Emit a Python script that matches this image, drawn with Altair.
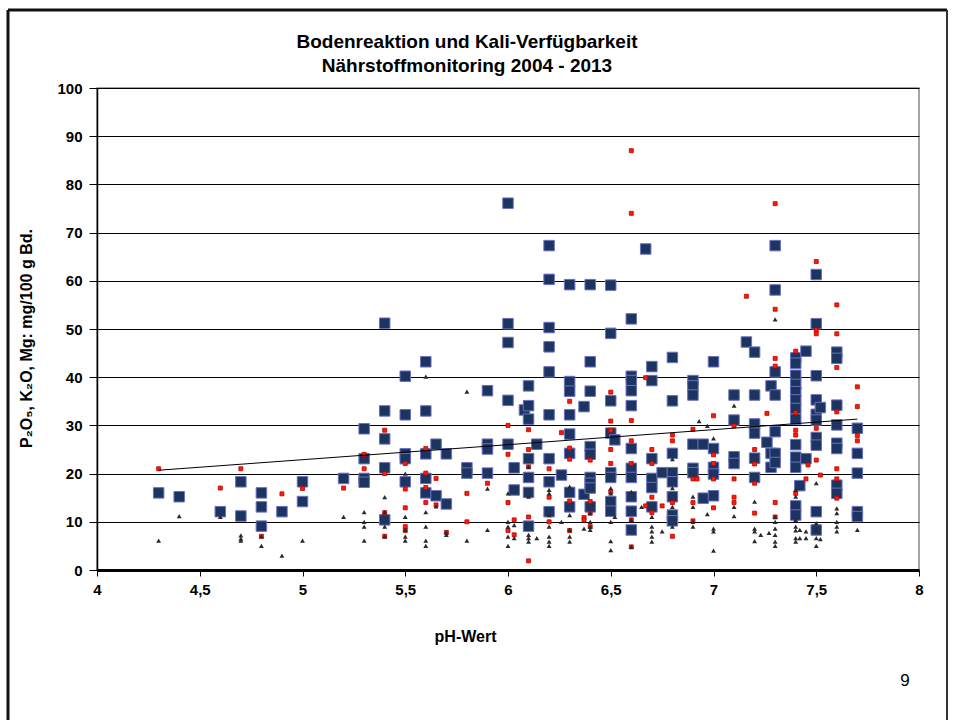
import altair as alt
import pandas as pd

# K2O (large navy squares), by pH
k2o = {
    4.3: [16], 4.4: [15.2], 4.6: [12.1], 4.7: [18.3, 11.2], 4.8: [16, 13.1, 9.1],
    4.9: [12.1], 5.0: [18.3, 14.2], 5.2: [19], 5.3: [29.3, 23.1, 19, 18.2],
    5.4: [51.2, 33, 27.2, 21.2, 10.4], 5.5: [40.2, 32.2, 24.1, 23.1, 18.3],
    5.6: [43.2, 33, 24.1, 19, 16], 5.65: [26.1, 15.4], 5.7: [24.1, 13.7],
    5.8: [21.2, 20.1], 5.9: [37.2, 26.1, 25.1, 20.1],
    6.0: [76.1, 51.1, 47.2, 35.2, 26.1], 6.03: [21.2, 16.6], 6.08: [33.2],
    6.1: [38.2, 34.1, 31.3, 23.1, 19.2, 16.1, 9.1], 6.14: [26.1],
    6.2: [67.3, 60.3, 50.3, 46.3, 41.1, 32.2, 23.1, 18.3, 12.1], 6.26: [19.7],
    6.3: [59.2, 39.1, 37.1, 32.2, 28.2, 24.2, 16.1, 13.1], 6.37: [33.9, 15.7],
    6.4: [59.2, 43.2, 37.1, 25.6, 24.0, 19.2, 18, 17, 13.1],
    6.5: [59.1, 49.1, 35.1, 28.4, 20.2, 19.2, 14.2, 12.2], 6.52: [27],
    6.6: [52.1, 40.2, 39.3, 37.2, 34.1, 25.2, 21.1, 19.2, 15.2, 12.2, 8.3],
    6.67: [66.6], 6.7: [42.2, 39.3, 23.1, 19, 17.1, 13.1], 6.75: [20.2],
    6.8: [44.1, 35.1, 24.2, 20.2, 18.3, 15.2, 11.4, 10.2],
    6.9: [39.3, 38.2, 36.3, 26.1, 21.1, 20.2], 6.95: [26.1, 14.9],
    7.0: [43.2, 25.2, 21.3, 19.9, 15.4], 7.1: [36.3, 31.1, 23.5, 22.1], 7.16: [47.3],
    7.2: [45.2, 36.3, 30.3, 28.4, 23.2, 19.2], 7.26: [26.5], 7.28: [38.2, 24.2, 21.3],
    7.3: [67.3, 58.1, 41.1, 36.3, 28.7, 24.2, 22.3],
    7.4: [44.0, 42.9, 40.4, 38.5, 37, 35.3, 33.5, 31.3, 26, 23.4, 21.3, 13.3, 11.4],
    7.42: [17.5], 7.45: [45.4, 23.1],
    7.5: [61.3, 51.1, 40.3, 35.3, 32.3, 31.1, 27.5, 25.9, 12.1, 8.3], 7.52: [33.7],
    7.6: [45.2, 43.9, 34.2, 30.1, 26.3, 25.2, 17.6, 15.9],
    7.7: [29.4, 24.2, 20.1, 12.1, 11.1],
}

# P2O5 (small red squares), by pH
p2o5 = {
    4.3: [21], 4.6: [17], 4.7: [21], 4.8: [7], 4.9: [15.8], 5.0: [16.9], 5.2: [17],
    5.3: [24, 21], 5.4: [29, 20, 11.9, 7], 5.5: [22.1, 16.8, 12.9, 9, 8.2],
    5.6: [25.2, 20.1, 17.1, 14], 5.65: [13.5, 19], 5.7: [7.8], 5.8: [15.9, 10],
    5.9: [18], 6.0: [30, 24, 14, 8.2], 6.03: [10.4, 7.3], 6.1: [29.1, 25, 21.4, 11, 1.9],
    6.2: [21, 15.1, 10], 6.26: [28.5], 6.3: [35, 25.3, 23, 14.3, 8.2], 6.37: [10.9, 10.4],
    6.4: [22.8, 14.2, 11.8, 9], 6.5: [36.9, 30.9, 29, 25, 22.1, 16.2],
    6.6: [87, 74, 31, 26.8, 22.1, 10.4, 4.8], 6.67: [39.9, 13.3],
    6.7: [25, 22.1, 15.1, 11.9], 6.75: [13.3], 6.8: [28, 26.8, 14, 7],
    6.9: [29.2, 18.9, 14, 10.2], 6.92: [18.9], 7.0: [32, 23.9, 22.1, 18.9, 12.9],
    7.1: [29.9, 18.9, 15.1, 14], 7.16: [56.8], 7.2: [25, 22, 18, 11.8], 7.26: [32.5],
    7.3: [76, 54.1, 43.9, 42.3, 14, 11], 7.4: [45.4, 32.6, 29, 28, 15.9], 7.45: [18.9],
    7.46: [21.8], 7.5: [64, 49.8, 49, 29.4, 22.8], 7.52: [19.7],
    7.6: [55, 49, 42, 32.8, 21, 18.9, 14.9], 7.7: [38, 33.9, 27.9, 26.8],
}

# Mg (small dark triangles), by pH
mg = {
    4.3: [6.1], 4.4: [11.2], 4.6: [11], 4.7: [7.2, 6.5, 6.1], 4.8: [7, 5], 4.9: [3],
    5.0: [6.1], 5.2: [11], 5.3: [12, 10, 9, 6.1], 5.4: [15.1, 12, 9, 7],
    5.5: [20, 11, 8.4, 6.9, 6.1], 5.6: [40.1, 12, 9, 6.1, 5], 5.65: [13.2],
    5.7: [7.3, 7.8], 5.8: [37, 6.1], 5.9: [16.9, 8.3], 6.0: [15.9, 10, 9, 6.9, 5],
    6.03: [9.3, 6.6], 6.1: [21.4, 15.2, 7.3, 6.6, 5.9], 6.14: [6.6],
    6.2: [16.6, 15.9, 11.4, 9, 6.9, 5.9, 5], 6.26: [10], 6.3: [17.3, 11.4, 8.3, 6.9, 5.9],
    6.37: [8.6], 6.4: [11.8, 10, 9, 8.3], 6.5: [17, 15.9, 10, 6, 4.1], 6.52: [11],
    6.6: [16.2, 10.4, 4.8], 6.65: [13.1], 6.7: [11, 9, 8, 6.9, 5.9], 6.75: [8],
    6.8: [23, 17, 13.1, 9], 6.9: [15.2, 13.1, 10, 9], 6.93: [30.9], 6.97: [29.9, 11.6],
    7.0: [27.3, 8.6, 8, 4], 7.1: [34.1, 13.1, 11.2], 7.2: [14.2, 8.6, 8, 6], 7.23: [7.3],
    7.27: [7.7], 7.3: [52, 11, 10, 8.6, 7.3, 5.9, 5], 7.4: [16.6, 15.2, 10.4, 9, 8.2, 6.6, 5.9],
    7.42: [8.3, 6.6], 7.45: [8, 6.6], 7.5: [18, 9.7, 8.3, 6.6, 5], 7.52: [6.4],
    7.6: [12.8, 11.8, 10, 9, 8], 7.7: [12.8, 8.3],
}

# linear trend line end points
trend_ph = [4.3, 7.7]
trend_val = [20.7, 31.3]

x_ticks = [4, 4.5, 5, 5.5, 6, 6.5, 7, 7.5, 8]
y_ticks = list(range(0, 101, 10))


def to_df(d, name):
    rows = [(ph, v, name) for ph, vals in d.items() for v in vals]
    return pd.DataFrame(rows, columns=["ph", "val", "serie"])


FONT = "Liberation Sans Narrow, Liberation Sans, Arial, sans-serif"
FONT_W = "Liberation Sans, Arial, sans-serif"

x_enc = alt.X(
    "ph:Q",
    scale=alt.Scale(domain=[4, 8], nice=False, zero=False),
    axis=alt.Axis(
        values=x_ticks, grid=False,
        labelExpr="replace(toString(datum.value), '.', ',')",
        domainColor="black", domainWidth=3, tickColor="black", tickSize=6, tickWidth=1,
        labelFont=FONT, labelFontSize=15, labelFontWeight="bold", labelColor="black",
        labelPadding=6, labelFlush=False,
        title="pH-Wert", titleFont=FONT, titleFontSize=16, titleFontWeight="bold",
        titleColor="black", titleX=368, titleY=58, titleAnchor="middle",
    ),
)
y_enc = alt.Y(
    "val:Q",
    scale=alt.Scale(domain=[0, 100], nice=False),
    axis=alt.Axis(
        values=y_ticks, grid=True, gridColor="black", gridWidth=1,
        domainColor="black", domainWidth=1.5, tickColor="black", tickSize=8, tickWidth=1,
        labelFont=FONT, labelFontSize=15, labelFontWeight="bold", labelColor="black",
        labelPadding=7,
        title="P₂O₅, K₂O, Mg: mg/100  g Bd.", titleFont=FONT_W, titleFontSize=16,
        titleFontWeight="bold", titleColor="black", titleX=-63, titleY=250,
        titleAnchor="middle",
    ),
)

blue = alt.Chart(to_df(k2o, "K2O")).mark_point(
    shape="square", filled=True, size=110, fill="#1c3560", stroke="#6b6fc0",
    strokeWidth=1, opacity=1,
).encode(x=x_enc, y=y_enc)

red = alt.Chart(to_df(p2o5, "P2O5")).mark_point(
    shape="square", filled=True, size=16, fill="#ff1a00", stroke="#c00000",
    strokeWidth=0.8, opacity=1,
).encode(x="ph:Q", y="val:Q")

black = alt.Chart(to_df(mg, "Mg")).mark_point(
    shape="triangle-up", filled=True, size=24, fill="#2a2a2a", opacity=1,
).encode(x="ph:Q", y="val:Q")

trend = alt.Chart(pd.DataFrame({"ph": trend_ph, "val": trend_val})).mark_line(
    color="black", strokeWidth=1
).encode(x="ph:Q", y="val:Q")

one = pd.DataFrame({"t": ["Bodenreaktion und Kali-Verfügbarkeit"]})
title1 = alt.Chart(one).mark_text(
    font=FONT, fontSize=19, fontWeight="bold", color="black", align="center", baseline="middle"
).encode(text="t:N", x=alt.value(370), y=alt.value(-46))
two = pd.DataFrame({"t": ["Nährstoffmonitoring 2004 - 2013"]})
title2 = alt.Chart(two).mark_text(
    font=FONT, fontSize=19, fontWeight="bold", color="black", align="center", baseline="middle"
).encode(text="t:N", x=alt.value(370), y=alt.value(-22))
page = alt.Chart(pd.DataFrame({"t": ["9"]})).mark_text(
    font=FONT, fontSize=17, color="black", align="center", baseline="middle"
).encode(text="t:N", x=alt.value(808), y=alt.value(593))

d1 = pd.DataFrame({"a": [0]})
frame_left = alt.Chart(d1).mark_rule(color="#111", strokeWidth=3).encode(
    x=alt.value(-89), y=alt.value(-78), y2=alt.value(640))
frame_top = alt.Chart(d1).mark_rule(color="#111", strokeWidth=3).encode(
    x=alt.value(-89), x2=alt.value(850), y=alt.value(-78))
frame_right = alt.Chart(d1).mark_rule(color="#333", strokeWidth=2).encode(
    x=alt.value(850), y=alt.value(-78), y2=alt.value(640))

chart = alt.layer(
    blue, red, black, trend, title1, title2, page, frame_left, frame_top, frame_right
).properties(
    width=822, height=482,
    autosize=alt.AutoSizeParams(type="none"),
    padding={"left": 97, "top": 88, "right": 35, "bottom": 150},
    background="white",
).configure_view(stroke="#888888", strokeWidth=1.5)

chart.save("out.html", embed_options={"renderer": "svg", "actions": False})
